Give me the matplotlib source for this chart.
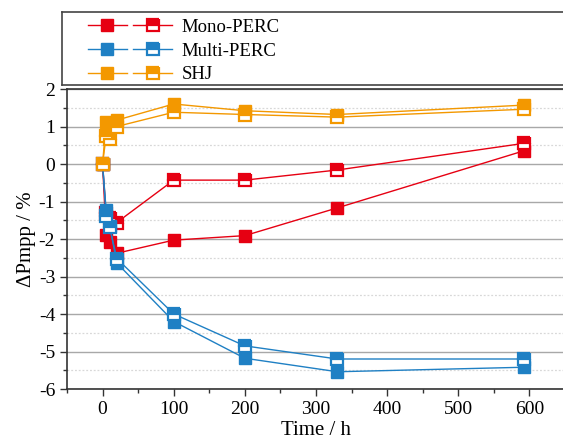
import matplotlib
matplotlib.use("Agg")
import matplotlib.pyplot as plt
from matplotlib.lines import Line2D
from matplotlib.legend_handler import HandlerTuple
from matplotlib.ticker import MultipleLocator

plt.rcParams['font.family'] = ['Liberation Serif', 'DejaVu Serif']
plt.rcParams['axes.unicode_minus'] = False

# time points (h)
t = [0, 5, 10, 20, 100, 200, 330, 592]

# Delta Pmpp (%)
mono_a = [0, -1.89, -2.07, -2.38, -2.03, -1.91, -1.17, 0.35]
mono_b = [0, -1.31, -1.45, -1.56, -0.43, -0.43, -0.16, 0.55]
multi_a = [0, -1.23, -1.65, -2.64, -4.20, -5.18, -5.54, -5.42]
multi_b = [0, -1.38, -1.68, -2.52, -4.00, -4.85, -5.20, -5.20]
shj_a = [0, 1.13, 1.04, 1.17, 1.60, 1.42, 1.32, 1.57]
shj_b = [0, 0.75, 0.68, 1.00, 1.38, 1.32, 1.25, 1.46]

names = ['Mono-PERC', 'Multi-PERC', 'SHJ']
colors = ['#e60012', '#1f80c4', '#f39800']
series = [(mono_a, mono_b), (multi_a, multi_b), (shj_a, shj_b)]

fig = plt.figure(figsize=(5.63, 4.44), dpi=100)
ax = fig.add_axes([67/563, 55/444, 498/563, 300/444])
leg_ax = fig.add_axes([62/563, 359/444, 530/563, 73/444])

handles = []
for (a, b), c, name in zip(series, colors, names):
    ax.plot(t, a, '-', color=c, lw=1.0, marker='s', ms=8, mfc=c, mec=c, zorder=3)
    ax.plot(t, b, '-', color=c, lw=1.0, marker='s', ms=8, mec=c, mfc=c, mew=1.6,
            fillstyle='top', markerfacecoloralt='white', zorder=3)
    h1 = Line2D([], [], color=c, lw=1.0, marker='s', ms=8, mfc=c, mec=c)
    h2 = Line2D([], [], color=c, lw=1.0, marker='s', ms=8, mec=c, mfc=c, mew=1.6,
                fillstyle='top', markerfacecoloralt='white')
    handles.append((h1, h2))

ax.set_xlim(-50, 650)
ax.set_ylim(-6, 2)
ax.xaxis.set_major_locator(MultipleLocator(100))
ax.xaxis.set_minor_locator(MultipleLocator(50))
ax.yaxis.set_major_locator(MultipleLocator(1))
ax.yaxis.set_minor_locator(MultipleLocator(0.5))
ax.grid(which='major', axis='y', color='#a8a8a8', lw=1.0, ls='-')
ax.grid(which='minor', axis='y', color='#d8d8d8', lw=0.9, ls=(0, (1.5, 1.5)))
ax.set_axisbelow(True)
ax.tick_params(which='both', direction='out', labelsize=14, color='#333333')
ax.tick_params(which='major', length=5, width=1)
ax.tick_params(which='minor', length=3, width=1)
ax.spines['right'].set_visible(False)
for s in ['left', 'bottom', 'top']:
    ax.spines[s].set_color('#333333')
    ax.spines[s].set_linewidth(1.2)
ax.set_xlabel('Time / h', fontsize=15, labelpad=2)
ax.set_ylabel('ΔPmpp / %', fontsize=15, labelpad=2)

leg_ax.set_xticks([])
leg_ax.set_yticks([])
for s in leg_ax.spines.values():
    s.set_color('#444444')
    s.set_linewidth(1.2)
leg_ax.legend(handles, names, handler_map={tuple: HandlerTuple(ndivide=None, pad=0.35)},
              loc='upper left', bbox_to_anchor=(0.024, 1.09), frameon=False,
              fontsize=13.5, handlelength=4.5, handletextpad=0.5, labelspacing=0.36,
              borderaxespad=0.3)

fig.savefig('out.png', dpi=100)
